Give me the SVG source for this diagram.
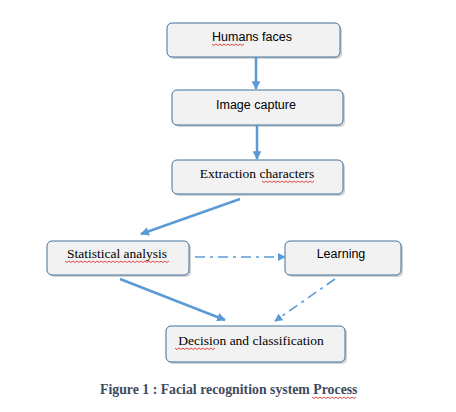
<svg xmlns="http://www.w3.org/2000/svg" width="456" height="412" viewBox="0 0 456 412">
<defs>
<style>
.box{fill:#f2f2f2;stroke:#41719c;stroke-width:1}
.sh{fill:#9a9a9a;opacity:0.45}
.sans{font-family:"Liberation Sans",Arial,sans-serif;font-size:12.5px;fill:#000}
.serif{font-family:"Liberation Serif","Times New Roman",serif;font-size:13.5px;fill:#000}
.c{stroke:#5b9bd5;stroke-width:2.5;fill:none}
.d{stroke:#5b9bd5;stroke-width:1.6;fill:none;stroke-dasharray:10 5 3 5}
.sq{stroke:#e02020;stroke-width:0.8;fill:none}
.cap{font-family:"Liberation Serif",Cambria,serif;font-size:13.8px;font-weight:bold;fill:#3e4b5e}
</style>
<marker id="ah" viewBox="0 0 10 10" refX="9" refY="5" markerWidth="3.5" markerHeight="3.5" orient="auto" markerUnits="strokeWidth">
<path d="M0,0 L10,5 L0,10 z" fill="#5b9bd5"/>
</marker>
<marker id="ahd" viewBox="0 0 10 10" refX="9" refY="5" markerWidth="5" markerHeight="5" orient="auto" markerUnits="strokeWidth">
<path d="M0,0 L10,5 L0,10 z" fill="#5b9bd5"/>
</marker>
</defs>
<rect width="456" height="412" fill="#fff"/>
<g id="n1">
<rect class="sh" x="169" y="25" width="173" height="34" rx="5"/>
<rect class="box" x="167" y="23" width="173" height="34" rx="5"/>
<text class="sans" x="252" y="41" text-anchor="middle">Humans faces</text>
<path class="sq" d="M212,44 l2,1.5 l2,-1.5 l2,1.5 l2,-1.5 l2,1.5 l2,-1.5 l2,1.5 l2,-1.5 l2,1.5 l2,-1.5 l2,1.5 l2,-1.5 l2,1.5 l2,-1.5 l2,1.5 l2,-1.5"/>
</g>
<g id="n2">
<rect class="sh" x="174" y="92" width="171" height="35" rx="5"/>
<rect class="box" x="172" y="90" width="171" height="35" rx="5"/>
<text class="sans" x="256" y="109" text-anchor="middle" font-size="13">Image capture</text>
</g>
<g id="n3">
<rect class="sh" x="174" y="162" width="171" height="34" rx="5"/>
<rect class="box" x="172" y="160" width="171" height="34" rx="5"/>
<text class="serif" x="257" y="178" text-anchor="middle">Extraction characters</text>
<path class="sq" d="M262,181 l2,1.5 l2,-1.5 l2,1.5 l2,-1.5 l2,1.5 l2,-1.5 l2,1.5 l2,-1.5 l2,1.5 l2,-1.5 l2,1.5 l2,-1.5 l2,1.5 l2,-1.5 l2,1.5 l2,-1.5 l2,1.5 l2,-1.5 l2,1.5 l2,-1.5 l2,1.5 l2,-1.5 l2,1.5 l2,-1.5 l2,1.5 l2,-1.5"/>
</g>
<g id="n4">
<rect class="sh" x="49" y="243" width="142" height="34" rx="5"/>
<rect class="box" x="47" y="241" width="142" height="34" rx="5"/>
<text class="serif" x="117" y="258" text-anchor="middle">Statistical analysis</text>
<path class="sq" d="M65,261 l2,1.5 l2,-1.5 l2,1.5 l2,-1.5 l2,1.5 l2,-1.5 l2,1.5 l2,-1.5 l2,1.5 l2,-1.5 l2,1.5 l2,-1.5 l2,1.5 l2,-1.5 l2,1.5 l2,-1.5 l2,1.5 l2,-1.5 l2,1.5 l2,-1.5 l2,1.5 l2,-1.5 l2,1.5 l2,-1.5 l2,1.5 l2,-1.5 l2,1.5 l2,-1.5 l2,1.5 l2,-1.5 l2,1.5 l2,-1.5 l2,1.5 l2,-1.5 l2,1.5 l2,-1.5 l2,1.5 l2,-1.5 l2,1.5 l2,-1.5 l2,1.5 l2,-1.5 l2,1.5 l2,-1.5 l2,1.5 l2,-1.5 l2,1.5 l2,-1.5 l2,1.5 l2,-1.5 l2,1.5 l2,-1.5"/>
</g>
<g id="n5">
<rect class="sh" x="287" y="243" width="116" height="34" rx="5"/>
<rect class="box" x="285" y="241" width="116" height="34" rx="5"/>
<text class="sans" x="341" y="258" text-anchor="middle">Learning</text>
</g>
<g id="n6">
<rect class="sh" x="168" y="328" width="179" height="36" rx="5"/>
<rect class="box" x="166" y="326" width="179" height="36" rx="5"/>
<text class="serif" x="251" y="345" text-anchor="middle">Decision and classification</text>
<path class="sq" d="M175,348 l2,1.5 l2,-1.5 l2,1.5 l2,-1.5 l2,1.5 l2,-1.5 l2,1.5 l2,-1.5 l2,1.5 l2,-1.5 l2,1.5 l2,-1.5 l2,1.5 l2,-1.5 l2,1.5 l2,-1.5 l2,1.5 l2,-1.5 l2,1.5 l2,-1.5"/>
</g>
<g id="connectors">
<line class="c" x1="256" y1="57" x2="256" y2="89" marker-end="url(#ah)"/>
<line class="c" x1="257" y1="125" x2="257" y2="159" marker-end="url(#ah)"/>
<line class="c" x1="240" y1="199" x2="141" y2="234" marker-end="url(#ah)"/>
<line class="d" x1="195" y1="257" x2="285" y2="257" marker-end="url(#ahd)"/>
<line class="c" x1="120" y1="279" x2="225" y2="320" marker-end="url(#ah)"/>
<line class="d" x1="335" y1="279" x2="275" y2="321" marker-end="url(#ahd)"/>
</g>
<g id="caption">
<text class="cap" x="100" y="394">Figure 1 : Facial recognition system Process</text>
<path class="sq" d="M312,397 l2,1.5 l2,-1.5 l2,1.5 l2,-1.5 l2,1.5 l2,-1.5 l2,1.5 l2,-1.5 l2,1.5 l2,-1.5 l2,1.5 l2,-1.5 l2,1.5 l2,-1.5 l2,1.5 l2,-1.5 l2,1.5 l2,-1.5 l2,1.5 l2,-1.5 l2,1.5 l2,-1.5"/>
</g>
</svg>
